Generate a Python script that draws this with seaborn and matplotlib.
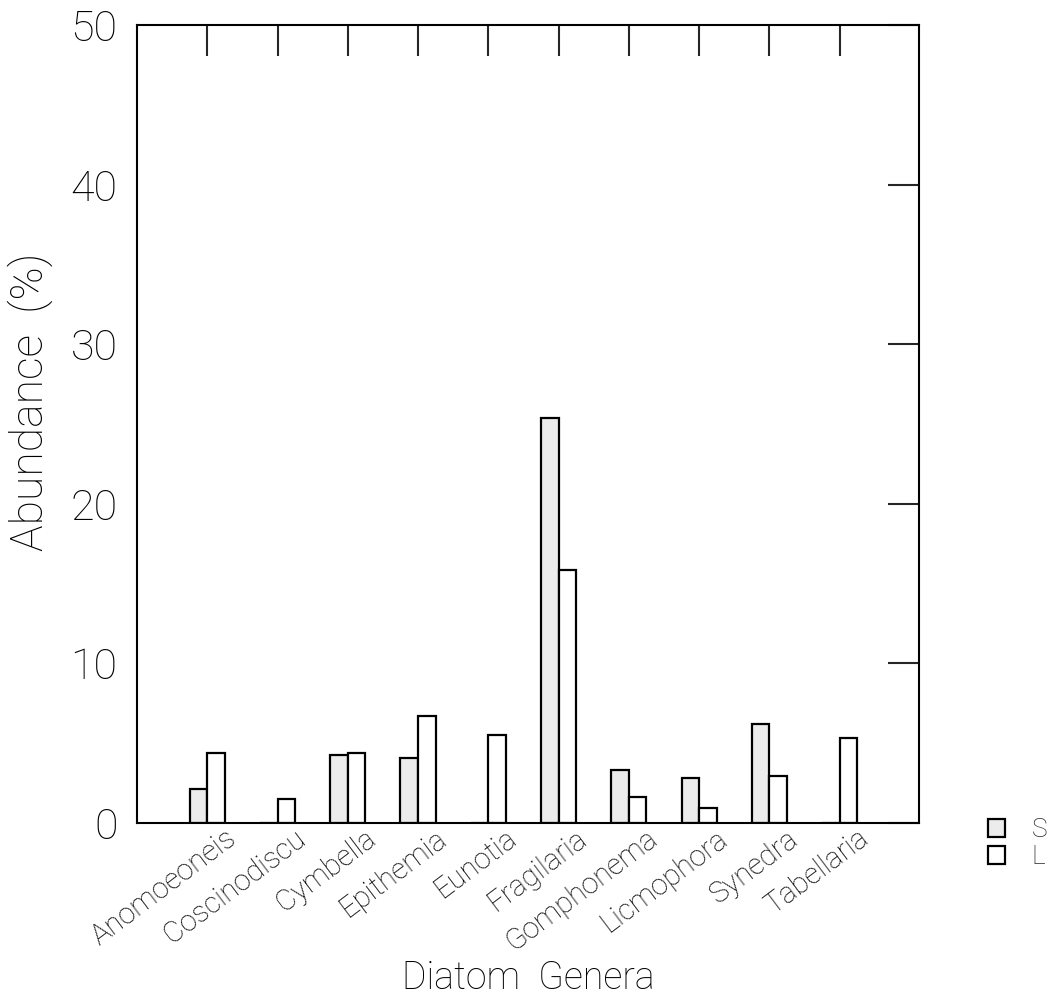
import matplotlib
matplotlib.use("Agg")
import matplotlib.pyplot as plt
import matplotlib.transforms as mtransforms
import seaborn as sns
import pandas as pd

genera = ["Anomoeoneis", "Coscinodiscu", "Cymbella", "Epithemia", "Eunotia",
          "Fragilaria", "Gomphonema", "Licmophora", "Synedra", "Tabellaria"]
s_values = [2.1, 0.0, 4.25, 4.1, 0.0, 25.4, 3.3, 2.8, 6.2, 0.0]
l_values = [4.4, 1.5, 4.4, 6.7, 5.5, 15.85, 1.6, 0.95, 2.95, 5.3]
series = ["S", "L"]
y_ticks = [0, 10, 20, 30, 40, 50]

df = pd.DataFrame({
    "Genus": genera * 2,
    "Abundance": s_values + l_values,
    "Site": ["S"] * len(genera) + ["L"] * len(genera),
})

sns.set_style("white")
plt.rcParams["font.family"] = ["Roboto", "DejaVu Sans"]
plt.rcParams["font.weight"] = "light"

fig = plt.figure(figsize=(10.63, 9.98), dpi=100)
ax = fig.add_axes([137 / 1063, 1 - 823 / 998, (919 - 137) / 1063, (823 - 25) / 998])

sns.barplot(data=df, x="Genus", y="Abundance", hue="Site", hue_order=series,
            order=genera, palette=["#ececec", "white"], saturation=1,
            edgecolor="black", linewidth=1.6, width=0.5, ax=ax, legend=True)

ax.set_xlim(-1.0, 10.13)
ax.set_ylim(0, 50)
ax.set_yticks(y_ticks)
ax.set_yticklabels([str(t) for t in y_ticks], fontsize=31, color="black",
                   fontweight="light")

for sp in ax.spines.values():
    sp.set_visible(True)
    sp.set_color("black")
    sp.set_linewidth(1.5)

ax.tick_params(axis="x", which="major", direction="in", top=True, bottom=False,
               labelbottom=True, length=22, width=1.5, pad=1)
ax.tick_params(axis="y", which="major", direction="in", left=False, right=True,
               labelleft=True, length=22, width=1.5, pad=14)

offset = mtransforms.ScaledTranslation(17 / 100, 0, fig.dpi_scale_trans)
for lab in ax.get_xticklabels():
    lab.set_rotation(37)
    lab.set_ha("right")
    lab.set_va("top")
    lab.set_rotation_mode("anchor")
    lab.set_fontsize(21)
    lab.set_fontweight("light")
    lab.set_color("black")
    lab.set_transform(lab.get_transform() + offset)

ax.set_xlabel("Diatom  Genera", fontsize=27, color="black", fontweight="light")
ax.xaxis.label.set_va("baseline")
ax.xaxis.set_label_coords(0.5, (823 - 989) / 798)
ax.set_ylabel("Abundance  (%)", fontsize=32, color="black", fontweight="light")
ax.yaxis.set_label_coords(-0.108, 0.528)

handles, labels = ax.get_legend_handles_labels()
leg = ax.legend(handles, labels, loc="center left", bbox_to_anchor=(1.075, -0.026),
                frameon=False, fontsize=19, handlelength=0.65, handleheight=0.65,
                handletextpad=1.0, labelspacing=0.1, borderaxespad=0)
for t in leg.get_texts():
    t.set_fontweight("light")

fig.savefig("out.png", dpi=100)
